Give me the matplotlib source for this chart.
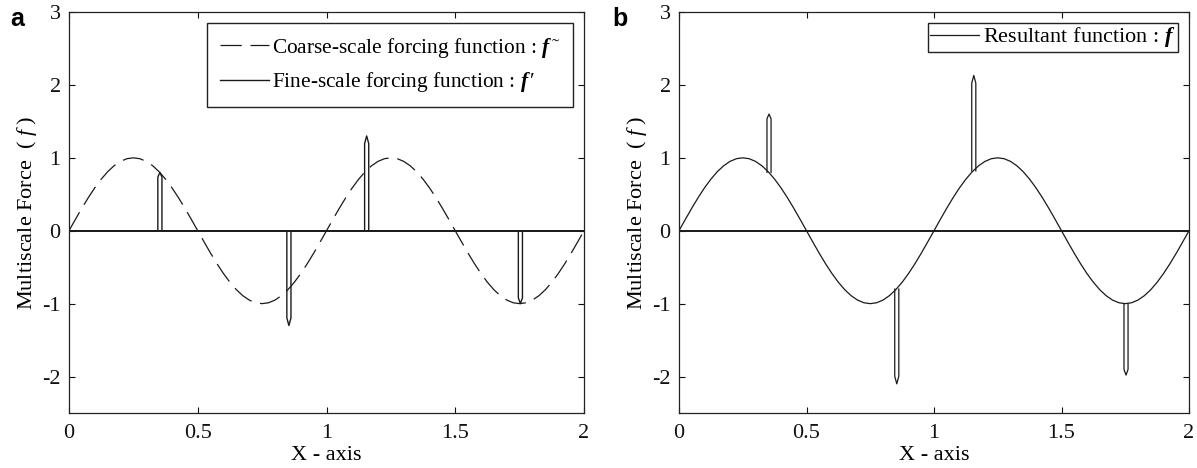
import numpy as np
import matplotlib
matplotlib.use("Agg")
import matplotlib.pyplot as plt

plt.rcParams["font.family"] = ["Liberation Serif", "DejaVu Serif"]
plt.rcParams["mathtext.fontset"] = "custom"
plt.rcParams["mathtext.rm"] = "Liberation Serif"
plt.rcParams["mathtext.it"] = "Liberation Serif:italic"
plt.rcParams["mathtext.bf"] = "Liberation Serif:italic:bold"
plt.rcParams["axes.unicode_minus"] = False

coarse_x = np.linspace(0, 2, 81)
coarse_y = [0.000, 0.156, 0.309, 0.454, 0.588, 0.707, 0.809, 0.891, 0.951, 0.988,
            1.000, 0.988, 0.951, 0.891, 0.809, 0.707, 0.588, 0.454, 0.309, 0.156,
            0.000, -0.156, -0.309, -0.454, -0.588, -0.707, -0.809, -0.891, -0.951, -0.988,
            -1.000, -0.988, -0.951, -0.891, -0.809, -0.707, -0.588, -0.454, -0.309, -0.156,
            0.000, 0.156, 0.309, 0.454, 0.588, 0.707, 0.809, 0.891, 0.951, 0.988,
            1.000, 0.988, 0.951, 0.891, 0.809, 0.707, 0.588, 0.454, 0.309, 0.156,
            0.000, -0.156, -0.309, -0.454, -0.588, -0.707, -0.809, -0.891, -0.951, -0.988,
            -1.000, -0.988, -0.951, -0.891, -0.809, -0.707, -0.588, -0.454, -0.309, -0.156,
            0.000]

# fine-scale spikes
spike_x = [0.353, 0.854, 1.156, 1.753]
spike_w = 0.016
fine_top = [0.80, -1.30, 1.30, -1.00]
# resultant spikes (panel b): base on the curve and tip
res_base = [0.80, -0.80, 0.82, -1.00]
res_top = [1.60, -2.10, 2.13, -1.98]

xticks = [0, 0.5, 1, 1.5, 2]
xtick_labels = ["0", "0.5", "1", "1.5", "2"]
yticks = [-2, -1, 0, 1, 2, 3]

LC = "#1a1a1a"
FS = 16


def spike_path(c, base, top):
    x0, x1 = c - spike_w / 2, c + spike_w / 2
    shoulder = base + 0.92 * (top - base)
    return [x0, x0, c, x1, x1], [base, shoulder, top, shoulder, base]


def style_axes(ax):
    ax.set_xlim(0, 2)
    ax.set_ylim(-2.5, 3)
    ax.set_xticks(xticks)
    ax.set_xticklabels(xtick_labels)
    ax.set_yticks(yticks)
    ax.tick_params(direction="in", length=4, width=0.8, top=True, right=True,
                   labelsize=FS, colors="#111111")
    ax.tick_params(axis="x", pad=8)
    ax.tick_params(axis="y", pad=6)
    for s in ax.spines.values():
        s.set_linewidth(0.9)
        s.set_color("#222222")
    ax.set_xlabel("X - axis", fontsize=FS, labelpad=2)
    ax.set_ylabel("Multiscale Force  ( $f$ )", fontsize=FS, labelpad=2)


fig = plt.figure(figsize=(11.97, 4.68), dpi=100)
ax_a = fig.add_axes([69 / 1197, 55 / 468, 515 / 1197, 401 / 468])
ax_b = fig.add_axes([679 / 1197, 55 / 468, 510 / 1197, 401 / 468])

# panel a
la, = ax_a.plot(coarse_x, coarse_y, color=LC, lw=0.9, linestyle=(0, (17, 7)))
fx, fy = [0.0], [0.0]
for c, t in zip(spike_x, fine_top):
    px, py = spike_path(c, 0.0, t)
    fx += px
    fy += py
fx.append(2.0)
fy.append(0.0)
lb, = ax_a.plot(fx, fy, color=LC, lw=1.0)
ax_a.axhline(0, color=LC, lw=1.4)
style_axes(ax_a)
ax_a.legend([la, lb],
            ["Coarse-scale forcing function : $\\mathbf{f}\\,$˜",
             "Fine-scale forcing function : $\\mathbf{f}\\,$′"],
            loc="upper right", fontsize=15.4, frameon=True, fancybox=False,
            edgecolor="#222222", framealpha=1, handlelength=2.3,
            handletextpad=0.15, borderpad=0.6, labelspacing=0.5,
            borderaxespad=0.5)

# panel b
lr, = ax_b.plot(coarse_x, coarse_y, color=LC, lw=0.9)
for c, b, t in zip(spike_x, res_base, res_top):
    px, py = spike_path(c, b, t)
    ax_b.plot(px, py, color=LC, lw=0.9)
ax_b.axhline(0, color=LC, lw=1.4)
style_axes(ax_b)
ax_b.legend([lr], ["Resultant function : $\\mathbf{f}$"],
            loc="upper right", fontsize=FS, frameon=True, fancybox=False,
            edgecolor="#222222", framealpha=1, handlelength=2.2,
            handletextpad=0.2, borderpad=0.1, borderaxespad=0.5)

fig.text(10 / 1197, 1 - 26 / 468, "a", fontsize=18, fontweight="bold",
         family="Liberation Sans")
fig.text(612 / 1197, 1 - 26 / 468, "b", fontsize=18, fontweight="bold",
         family="Liberation Sans")

fig.savefig("out.png", dpi=100)
